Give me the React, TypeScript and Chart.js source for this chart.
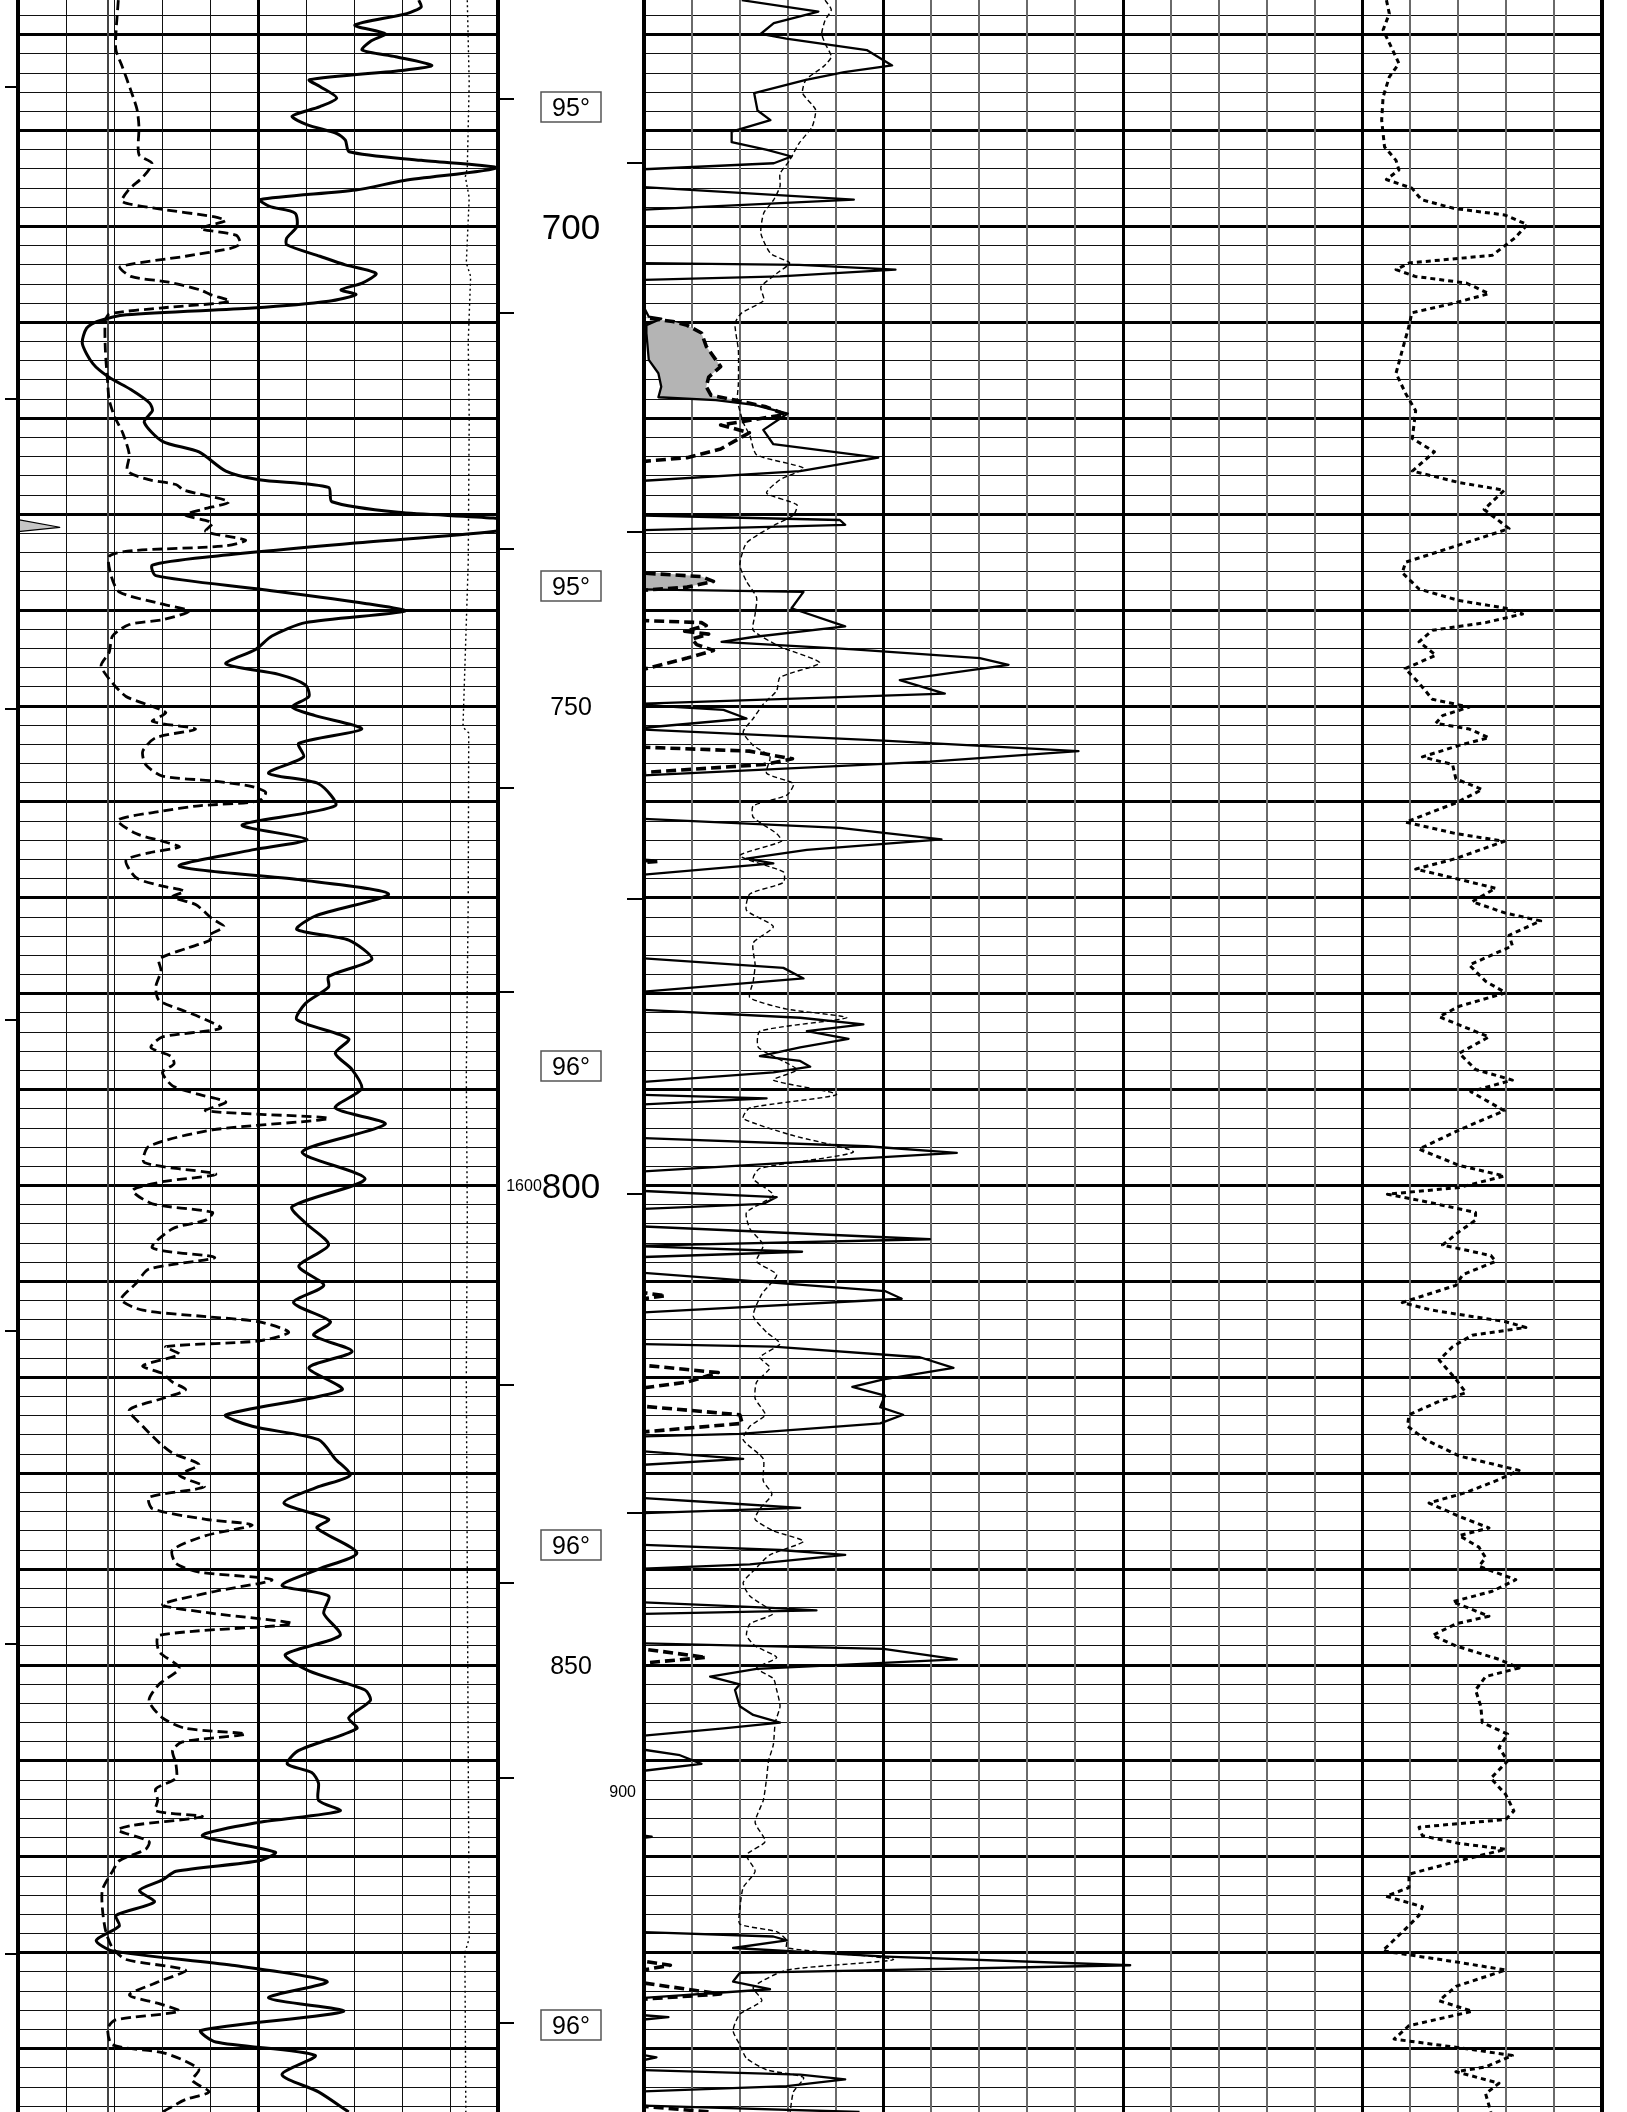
import React, { useEffect, useRef } from 'react';
import { Chart, registerables } from 'chart.js';

Chart.register(...registerables);

type P = [number, number]; // [depth (m), value (track divisions)]

const FONT = "'Liberation Sans', Arial, Helvetica, sans-serif";

// ---- depth axis ----
const DEPTH_TOP = 676.38;
const DEPTH_BOTTOM = 896.6;
const GRID_STEP_M = 2;
const GRID_MAJOR_M = 10;

// ---- track layout (divisions) ----
const T1_DIVISIONS = 10;
const T1_MAJOR = [5];
const T1_REFERENCE = 1.88;
const T23_DIVISIONS = 20;
const T23_MAJOR = [5, 10, 15];

// ---- depth track labels ----
const DEPTH_NUMBERS = [700, 750, 800, 850];
const TEMP_DEPTHS = [687.5, 737.5, 787.5, 837.5, 887.5];
const TEMP_LABELS = ['95°', '95°', '96°', '96°', '96°'];
const AUX_LEFT_TEXT = '1600';
const AUX_LEFT_DEPTH = 800;
const AUX_RIGHT_TEXT = '900';
const AUX_RIGHT_DEPTH = 863.2;

// ---- tick marks ----
const LEFT_EDGE_TICKS = [685.5, 718.0, 750.3, 782.7, 815.2, 847.8, 880.1];
const MID_LEFT_TICKS = [686.7, 709.0, 733.6, 758.5, 779.8, 820.8, 841.4, 861.8, 887.3];
const MID_RIGHT_TICKS = [693.4, 731.8, 770.1, 800.9, 834.1];

// ---- Track 1: solid curve ----
const GR: P[] = [
  [676.4, 8.35], [677.1, 8.4], [677.8, 8.1], [679.0, 7.02], [679.9, 7.65], [680.7, 7.34], [681.6, 7.17],
  [682.3, 7.87], [683.2, 8.62], [683.7, 8.05], [684.7, 6.07], [685.4, 6.29], [686.6, 6.64], [687.5, 6.29],
  [688.5, 5.71], [689.4, 6.03], [690.3, 6.64], [691.0, 6.82], [692.2, 6.9], [693.1, 8.4], [693.9, 9.97],
  [695.2, 8.05], [696.2, 7.04], [697.2, 5.04], [697.9, 5.24], [698.6, 5.77], [700.0, 5.81], [701.2, 5.6],
  [701.9, 5.6], [703.1, 6.29], [704.0, 6.82], [704.9, 7.46], [705.9, 7.17], [706.6, 6.73], [707.1, 7.04],
  [707.8, 6.47], [708.5, 4.89], [709.2, 2.26], [709.9, 1.65], [710.6, 1.43], [712.2, 1.34], [714.3, 1.56],
  [715.7, 1.89], [717.0, 2.35], [718.4, 2.74], [719.2, 2.8], [720.4, 2.63], [722.4, 3.01], [723.5, 3.77],
  [725.5, 4.33], [726.4, 5.02], [727.2, 6.47], [728.7, 6.54], [729.8, 7.92], [730.4, 9.9], [731.0, 10.5],
  [731.8, 9.9], [733.0, 7.02], [734.4, 4.05], [735.3, 2.8], [736.4, 2.87], [737.8, 5.02], [739.3, 7.23],
  [740.1, 8.06], [741.3, 5.99], [742.7, 5.29], [744.1, 4.95], [745.6, 4.33], [746.7, 5.43], [747.8, 5.99],
  [749.0, 6.06], [750.1, 5.71], [751.0, 6.19], [752.4, 7.16], [753.9, 5.85], [755.3, 5.95], [757.0, 5.22],
  [758.1, 6.26], [760.4, 6.61], [762.4, 4.67], [763.9, 6.02], [765.0, 4.88], [766.7, 3.36], [768.1, 5.85],
  [769.6, 7.72], [771.9, 6.19], [773.3, 5.81], [774.4, 6.89], [776.4, 7.37], [778.2, 6.47], [779.3, 6.47],
  [781.0, 5.99], [782.7, 5.81], [784.7, 6.89], [786.2, 6.61], [787.9, 6.96], [789.9, 7.16], [791.9, 6.61],
  [793.6, 7.65], [796.5, 5.92], [799.3, 7.23], [802.2, 5.71], [803.9, 5.99], [806.2, 6.47], [808.4, 5.85],
  [810.4, 6.37], [812.2, 5.74], [814.2, 6.51], [815.6, 6.16], [817.3, 6.96], [819.0, 6.06], [821.3, 6.75],
  [823.9, 4.33], [825.1, 4.88], [826.5, 6.26], [828.5, 6.61], [830.2, 6.92], [831.4, 6.26], [833.1, 5.54],
  [834.8, 6.47], [835.7, 6.23], [838.3, 7.06], [840.0, 6.26], [841.7, 5.5], [842.8, 6.47], [844.6, 6.37],
  [846.9, 6.71], [848.9, 5.57], [850.6, 6.06], [852.6, 7.23], [853.7, 7.34], [855.5, 6.89], [856.6, 7.06],
  [858.9, 5.85], [860.3, 5.61], [861.2, 6.12], [862.3, 6.26], [864.1, 6.26], [865.2, 6.71], [866.4, 5.02],
  [867.8, 3.84], [869.5, 5.36], [870.4, 5.02], [871.5, 3.29], [872.4, 3.01], [873.5, 2.53], [874.7, 2.84],
  [876.1, 2.04], [877.2, 2.11], [878.7, 1.63], [879.8, 1.97], [881.3, 4.46], [883.0, 6.44], [884.7, 5.22],
  [886.1, 6.78], [888.1, 3.81], [889.3, 4.12], [890.7, 6.19], [892.7, 5.5], [894.5, 6.26], [896.6, 6.89],
];

// ---- Track 1: dashed curve ----
const SP: P[] = [
  [676.4, 2.09], [679.9, 2.04], [681.6, 2.04], [683.3, 2.17], [685.8, 2.35], [687.8, 2.48], [689.6, 2.52],
  [692.5, 2.52], [693.4, 2.79], [694.8, 2.61], [696.2, 2.3], [697.4, 2.17], [698.1, 2.87], [699.0, 4.1],
  [699.4, 4.32], [700.2, 3.79], [700.9, 4.54], [701.8, 4.63], [702.3, 4.41], [703.1, 3.49], [704.2, 2.13],
  [705.2, 2.35], [705.8, 3.14], [706.6, 3.79], [707.1, 4.01], [707.8, 4.41], [708.5, 2.96], [709.1, 1.91],
  [709.8, 1.82], [712.9, 1.82], [716.4, 1.87], [718.1, 1.9], [719.8, 2.01], [721.5, 2.18], [723.8, 2.32],
  [725.5, 2.28], [726.4, 2.73], [726.9, 3.29], [727.5, 3.46], [728.7, 4.39], [729.5, 3.84], [730.1, 3.49],
  [730.9, 4.05], [731.8, 3.91], [732.7, 4.74], [733.3, 4.33], [733.8, 2.39], [734.4, 1.9], [736.4, 1.94],
  [738.1, 2.11], [739.3, 2.94], [740.1, 3.56], [741.0, 3.01], [741.5, 2.32], [742.7, 1.97], [744.4, 1.9],
  [745.8, 1.73], [747.6, 1.97], [749.0, 2.25], [749.8, 2.66], [750.7, 3.08], [751.6, 2.8], [752.4, 3.7],
  [753.3, 2.87], [754.7, 2.6], [756.1, 2.66], [757.3, 3.01], [757.8, 4.05], [758.4, 4.88], [759.0, 5.16],
  [759.9, 5.02], [760.4, 3.77], [761.0, 2.94], [761.9, 2.08], [763.3, 2.46], [764.1, 3.01], [764.7, 3.36],
  [765.3, 2.73], [766.1, 2.25], [767.9, 2.46], [768.7, 2.94], [769.3, 3.46], [769.9, 3.22], [770.7, 3.7],
  [772.2, 4.05], [773.0, 4.29], [773.9, 3.98], [774.4, 4.01], [775.3, 3.49], [776.4, 2.94], [777.6, 2.98],
  [779.3, 2.87], [780.7, 2.94], [781.6, 3.36], [782.4, 3.77], [783.6, 4.22], [784.5, 3.01], [785.6, 2.77],
  [786.5, 3.18], [787.3, 3.25], [788.2, 3.01], [789.6, 3.22], [790.5, 3.77], [791.3, 4.33], [792.2, 3.91],
  [793.0, 6.47], [794.2, 4.05], [795.9, 2.73], [797.6, 2.63], [798.8, 4.12], [799.6, 3.01], [800.5, 2.39],
  [801.9, 2.8], [802.8, 4.05], [803.6, 3.91], [804.5, 3.22], [806.5, 2.8], [807.5, 4.1], [808.7, 2.73],
  [810.2, 2.46], [811.9, 2.15], [813.0, 2.6], [813.6, 3.77], [814.2, 5.02], [815.3, 5.64], [816.2, 5.02],
  [816.8, 3.08], [817.6, 3.36], [818.8, 2.6], [819.6, 3.01], [820.5, 3.22], [821.3, 3.49], [822.2, 3.01],
  [823.4, 2.32], [825.1, 2.6], [826.8, 2.94], [827.9, 3.22], [829.1, 3.77], [830.2, 3.36], [831.4, 3.88],
  [832.5, 2.73], [833.7, 2.8], [834.8, 3.91], [835.4, 4.88], [836.5, 3.91], [838.0, 3.22], [839.4, 3.29],
  [840.3, 3.77], [841.1, 5.29], [842.3, 4.12], [843.7, 3.01], [844.6, 4.05], [845.7, 5.71], [846.9, 2.94],
  [848.6, 2.94], [850.3, 3.36], [852.0, 2.94], [853.7, 2.73], [855.5, 3.01], [856.6, 3.49], [857.2, 4.74],
  [858.0, 3.43], [858.9, 3.22], [860.3, 3.29], [861.8, 3.29], [862.9, 2.87], [864.1, 2.91], [865.2, 2.87],
  [865.8, 3.84], [866.7, 2.39], [867.2, 2.08], [868.4, 2.73], [869.2, 2.66], [870.4, 2.11], [871.5, 1.97],
  [873.4, 1.76], [875.5, 1.76], [877.8, 1.83], [879.5, 1.97], [880.7, 2.25], [881.8, 3.49], [883.0, 2.94],
  [884.4, 2.32], [885.3, 2.94], [886.1, 3.36], [887.0, 2.04], [887.9, 1.87], [889.6, 1.97], [890.4, 3.01],
  [891.3, 3.49], [892.2, 3.77], [893.3, 3.63], [894.5, 3.98], [895.3, 3.49], [896.6, 3.01],
];

// ---- Track 1: thin dotted curve ----
const CALI: P[] = [
  [676.4, 9.36], [685.0, 9.4], [693.9, 9.36], [694.8, 9.32], [697.0, 9.4], [703.8, 9.34], [705.2, 9.43],
  [712.0, 9.38], [720.0, 9.4], [735.0, 9.38], [752.2, 9.27], [752.8, 9.39], [770.0, 9.38], [788.5, 9.34],
  [803.0, 9.36], [820.0, 9.34], [850.0, 9.37], [878.5, 9.4], [880.0, 9.31], [896.6, 9.33],
];

// ---- Track 1: small shaded wedge ----
const T1_WEDGE: P[] = [[730.56, 0], [731.36, 0.87], [731.82, 0]];

// ---- Track 2: solid curve ----
const ILD: P[] = [
  [676.4, 2.04], [677.6, 3.64], [678.8, 2.71], [679.9, 2.44], [680.4, 2.97], [681.6, 4.65], [683.2, 5.18],
  [683.9, 4.18], [684.7, 3.38], [686.1, 2.3], [687.9, 2.37], [688.9, 2.64], [690.1, 1.83], [691.2, 1.83],
  [692.0, 2.57], [692.7, 3.08], [693.4, 2.71], [694.1, -0.3], [695.8, -0.3], [697.2, 4.38], [698.3, -0.3],
  [703.8, -0.3], [704.0, 3.24], [704.5, 5.25], [705.2, 2.84], [705.6, -0.3], [709.4, 0.1], [709.6, 0.36],
  [710.3, 0.05], [711.1, 0.05], [713.9, 0.1], [715.3, 0.3], [716.7, 0.36], [717.8, 0.3], [718.1, 1.5],
  [718.6, 2.3], [719.5, 3.0], [721.2, 2.49], [722.7, 2.7], [724.1, 4.89], [725.5, 3.26], [726.6, -0.3],
  [730.1, -0.3], [730.6, 4.09], [731.1, 4.2], [731.7, -0.3], [737.8, -0.3], [738.1, 3.33], [739.8, 3.08],
  [741.7, 4.2], [742.8, 2.28], [743.3, 1.62], [744.1, 4.37], [745.0, 7.01], [745.7, 7.61], [747.3, 5.34],
  [748.7, 6.28], [749.8, -0.3], [750.4, 1.66], [751.3, 2.14], [752.4, -0.3], [753.6, 5.0], [754.7, 9.07],
  [755.8, 5.97], [757.3, -0.3], [761.7, -0.3], [762.7, 4.09], [763.9, 6.21], [765.0, 3.4], [765.9, 2.14],
  [766.4, 2.7], [767.7, -0.3], [776.2, -0.3], [777.3, 2.91], [778.4, 3.33], [779.9, -0.3], [781.6, -0.3],
  [782.5, 3.26], [783.2, 4.58], [783.9, 3.4], [784.7, 4.27], [785.6, 3.26], [786.5, 2.42], [787.0, 3.26],
  [787.6, 3.47], [788.2, 2.7], [789.3, -0.3], [790.5, -0.3], [790.9, 2.56], [791.6, -0.3], [795.0, -0.3],
  [795.9, 4.65], [796.6, 6.53], [797.3, 4.09], [798.6, -0.3], [800.5, -0.3], [801.2, 2.77], [801.9, 2.5],
  [802.5, -0.3], [804.2, -0.3], [805.6, 5.97], [806.3, -0.3], [806.9, 3.3], [807.5, -0.3], [809.0, -0.3],
  [811.0, 5.03], [811.8, 5.38], [813.3, -0.3], [816.5, -0.3], [816.8, 2.7], [817.9, 5.76], [819.0, 6.46],
  [820.2, 5.0], [821.0, 4.35], [821.9, 5.03], [823.1, 4.93], [823.9, 5.41], [824.8, 4.93], [825.9, 2.0],
  [826.2, -0.3], [827.6, -0.3], [828.5, 2.07], [829.2, -0.3], [832.5, -0.3], [833.1, 1.66], [833.6, 3.26],
  [834.2, -0.3], [837.4, -0.3], [838.0, 2.84], [838.5, 4.2], [839.5, 2.21], [840.0, -0.3], [843.4, -0.3],
  [844.0, 2.56], [844.3, 3.6], [844.7, -0.3], [847.7, -0.3], [848.3, 5.0], [849.4, 6.53], [850.4, 2.35],
  [851.2, 1.38], [852.0, 2.0], [852.6, 1.9], [854.3, 2.0], [855.2, 2.28], [856.0, 2.84], [856.6, 1.66],
  [857.5, -0.3], [858.6, -0.3], [859.4, 0.75], [860.3, 1.2], [861.2, -0.3], [867.6, -0.3], [867.9, 0.16],
  [868.2, -0.3], [877.8, -0.3], [878.3, 2.7], [878.7, 2.98], [879.5, 1.86], [880.4, 5.07], [881.3, 10.15],
  [882.1, 2.0], [883.0, 1.86], [883.8, 2.63], [884.8, -0.3], [886.4, -0.3], [886.7, 0.51], [887.1, -0.3],
  [890.4, -0.3], [890.9, 0.26], [891.5, -0.3], [892.2, -0.3], [892.7, 3.26], [893.2, 4.2], [893.9, 2.98],
  [894.5, -0.3], [895.9, -0.3], [896.6, 4.5],
];

// ---- Track 2: heavy dashed curve ----
const ILM: P[] = [
  [709.4, -0.5], [709.5, 0], [709.9, 0.6], [710.3, 0.9], [711.1, 1.2], [712.5, 1.3], [713.9, 1.5],
  [714.6, 1.6], [715.7, 1.35], [716.7, 1.3], [717.6, 1.4], [718.1, 1.9], [718.8, 2.55], [719.6, 2.95],
  [720.7, 1.6], [721.5, 2.2], [723.2, 1.6], [724.1, 0.9], [724.7, -0.5], [736.0, -0.5], [736.5, 1.2],
  [737.0, 1.45], [737.6, 0.9], [738.1, -0.5], [741.0, -0.5], [741.3, 1.2], [741.6, 1.3], [742.2, 0.85],
  [742.5, 1.35], [743.0, 1.0], [743.6, 1.1], [744.2, 1.45], [745.0, 0.9], [746.8, -0.5], [754.2, -0.5],
  [754.7, 2.2], [755.5, 3.1], [756.1, 2.5], [757.1, -0.5], [765.9, -0.5], [766.2, 0.3], [766.5, -0.5],
  [810.8, -0.5], [811.5, 0.45], [812.1, -0.5], [818.5, -0.5], [819.5, 1.55], [820.5, 0.9], [821.4, -0.5],
  [822.8, -0.5], [823.9, 2.0], [824.8, 2.05], [825.9, -0.5], [848.0, -0.5], [849.2, 1.3], [850.0, -0.5],
  [880.5, -0.5], [881.3, 0.55], [882.2, -0.5], [882.8, -0.5], [884.3, 1.6], [885.0, -0.5], [895.8, -0.5],
  [896.6, 1.4],
];

// ---- Track 2: thin dashed curve ----
const SFL: P[] = [
  [676.4, 3.78], [677.4, 3.91], [678.5, 3.78], [679.9, 3.71], [680.9, 3.78], [682.3, 3.91], [683.3, 3.75],
  [684.7, 3.38], [686.1, 3.31], [687.8, 3.58], [689.6, 3.51], [691.3, 3.24], [693.1, 3.04], [694.5, 2.84],
  [695.8, 2.84], [697.2, 2.71], [698.6, 2.5], [700.7, 2.44], [702.8, 2.64], [703.8, 3.04], [704.9, 2.77],
  [706.3, 2.44], [707.7, 2.5], [709.0, 2.04], [710.1, 1.9], [712.9, 1.97], [716.4, 1.97], [718.1, 1.95],
  [720.4, 2.07], [721.8, 2.21], [723.8, 2.35], [725.2, 3.33], [726.4, 2.84], [727.8, 2.56], [729.0, 3.19],
  [730.1, 3.12], [731.2, 2.7], [733.0, 2.14], [735.3, 2.0], [737.0, 2.14], [738.7, 2.35], [740.4, 2.32],
  [742.1, 2.28], [743.8, 2.84], [745.5, 3.67], [747.0, 2.84], [748.4, 2.77], [749.8, 2.49], [751.3, 2.28],
  [752.7, 2.07], [754.1, 2.28], [755.3, 2.63], [757.0, 2.56], [758.1, 3.12], [759.3, 2.98], [760.4, 2.28],
  [761.6, 2.28], [763.3, 2.77], [764.1, 2.87], [765.6, 2.0], [767.3, 2.91], [768.4, 2.91], [769.6, 2.21],
  [771.3, 2.14], [773.0, 2.7], [774.7, 2.28], [777.0, 2.32], [778.7, 2.28], [780.4, 2.21], [781.6, 2.98],
  [782.5, 4.23], [783.9, 2.42], [785.6, 2.39], [787.9, 3.19], [789.0, 2.7], [790.5, 4.02], [791.9, 2.21],
  [793.0, 2.07], [794.7, 3.05], [796.5, 4.37], [798.2, 2.42], [799.3, 2.28], [801.0, 2.7], [802.8, 2.14],
  [804.5, 2.21], [806.2, 2.49], [807.9, 2.35], [809.3, 2.77], [811.3, 2.46], [813.6, 2.28], [815.3, 2.56],
  [816.5, 2.84], [817.9, 2.42], [819.0, 2.63], [820.5, 2.35], [822.2, 2.32], [823.9, 2.53], [825.1, 2.21],
  [826.5, 2.07], [828.5, 2.49], [830.8, 2.49], [832.2, 2.67], [833.7, 2.42], [834.8, 2.32], [836.0, 2.7],
  [837.1, 3.33], [838.5, 2.63], [840.0, 2.32], [841.4, 2.07], [842.8, 2.21], [844.6, 2.7], [845.7, 2.21],
  [846.9, 2.14], [848.0, 2.32], [849.2, 2.77], [850.3, 2.35], [851.4, 2.7], [852.6, 2.77], [854.3, 2.84],
  [856.0, 2.74], [858.3, 2.7], [860.0, 2.6], [861.8, 2.56], [864.1, 2.49], [866.4, 2.32], [868.4, 2.53],
  [869.8, 2.14], [871.5, 2.32], [873.2, 2.07], [875.5, 2.0], [877.0, 2.0], [877.8, 2.77], [878.7, 2.98],
  [879.5, 2.98], [880.7, 5.21], [881.8, 2.98], [883.6, 2.28], [885.0, 2.46], [886.4, 2.0], [888.1, 1.86],
  [889.6, 2.0], [891.0, 2.14], [892.2, 2.56], [893.0, 3.33], [894.5, 3.12], [896.6, 3.05],
];

// ---- Track 3: heavy dotted curve ----
const DT: P[] = [
  [676.4, 15.5], [677.8, 15.56], [679.5, 15.43], [681.6, 15.63], [683.0, 15.76], [684.4, 15.56], [686.5, 15.43],
  [688.9, 15.4], [691.7, 15.46], [693.1, 15.7], [694.1, 15.76], [695.1, 15.5], [696.0, 16.03], [697.2, 16.23],
  [698.1, 16.9], [698.8, 17.97], [699.8, 18.44], [701.2, 18.18], [703.0, 17.71], [703.8, 15.97], [704.5, 15.7],
  [705.2, 16.1], [705.9, 17.17], [707.0, 17.64], [708.0, 16.9], [709.0, 16.03], [710.4, 15.97], [712.9, 15.83],
  [715.3, 15.7], [717.4, 15.9], [718.6, 16.04], [719.2, 16.11], [722.1, 16.04], [723.5, 16.5], [725.5, 16.04],
  [726.7, 17.02], [727.5, 17.96], [729.5, 17.54], [731.5, 18.06], [733.2, 17.02], [735.0, 15.9], [736.1, 15.83],
  [737.8, 16.18], [739.0, 17.02], [739.8, 17.99], [740.4, 18.34], [741.3, 17.57], [742.1, 16.46], [743.3, 16.18],
  [744.7, 16.53], [746.1, 15.89], [747.6, 16.18], [749.3, 16.46], [750.1, 17.23], [751.0, 16.67], [751.8, 16.53],
  [752.4, 17.23], [753.3, 17.64], [754.1, 17.02], [755.3, 16.25], [756.1, 16.88], [757.6, 16.95], [758.7, 17.5],
  [760.1, 16.95], [762.1, 15.9], [763.3, 16.95], [764.1, 17.96], [765.9, 16.95], [767.0, 16.11], [767.9, 16.88],
  [769.0, 17.78], [770.4, 17.29], [771.6, 17.99], [772.4, 18.72], [773.9, 18.06], [775.0, 18.13], [777.0, 17.23],
  [778.7, 17.57], [779.9, 17.99], [781.3, 17.02], [782.4, 16.6], [784.5, 17.64], [786.2, 17.02], [787.9, 17.36],
  [789.0, 18.13], [790.2, 17.26], [792.2, 17.96], [794.2, 17.02], [796.2, 16.18], [797.9, 17.02], [799.0, 17.96],
  [800.2, 17.02], [800.9, 15.52], [801.6, 16.25], [802.8, 17.36], [803.6, 17.36], [804.8, 17.02], [806.2, 16.67],
  [807.3, 17.68], [807.9, 17.78], [809.3, 17.09], [810.4, 16.95], [812.2, 15.83], [813.0, 16.46], [814.2, 17.99],
  [814.8, 18.41], [815.6, 17.29], [816.8, 16.88], [818.2, 16.6], [820.2, 16.95], [821.6, 17.16], [822.5, 16.6],
  [823.9, 15.97], [825.1, 15.94], [826.5, 16.32], [828.2, 17.02], [829.7, 18.27], [830.8, 17.78], [832.0, 17.16],
  [833.1, 16.39], [834.5, 17.02], [835.7, 17.64], [836.5, 17.02], [837.7, 17.43], [838.8, 17.57], [839.7, 17.43],
  [841.1, 18.2], [842.3, 17.71], [843.4, 16.88], [844.9, 17.64], [845.7, 16.95], [846.9, 16.46], [848.0, 16.95],
  [849.4, 17.85], [850.3, 18.27], [851.2, 17.57], [852.6, 17.36], [854.3, 17.47], [856.0, 17.5], [857.2, 18.03],
  [858.6, 17.85], [860.0, 18.03], [861.8, 17.68], [863.5, 17.99], [865.2, 18.16], [866.1, 17.99], [866.9, 16.18],
  [867.8, 16.25], [868.6, 17.02], [869.2, 17.99], [870.4, 17.02], [871.8, 15.97], [873.2, 15.97], [874.1, 15.49],
  [875.2, 16.25], [876.1, 16.18], [877.5, 15.9], [879.8, 15.42], [881.0, 17.02], [881.8, 17.99], [883.5, 16.95],
  [885.0, 16.6], [886.1, 17.29], [887.6, 15.97], [889.0, 15.66], [889.9, 17.02], [890.7, 18.13], [891.9, 17.57],
  [892.4, 16.95], [893.6, 17.85], [894.7, 17.57], [896.6, 17.68],
];

// ---------- helpers ----------
const toPts = (arr: P[]) => arr.map(([d, v]) => ({ x: v, y: d }));
const between = (arr: P[], lo: number, hi: number) => arr.filter(([d]) => d >= lo && d <= hi);

const FILL_A: P[] = [...between(ILM, 709.45, 719.65), ...between(ILD, 709.35, 719.55).reverse()];
const FILL_B: P[] = between(ILM, 735.9, 738.2).map(([d, v]) => [d, Math.max(v, 0)] as P);

const SHADE = '#b4b4b4';

function line(ctx: CanvasRenderingContext2D, x1: number, y1: number, x2: number, y2: number) {
  ctx.beginPath();
  ctx.moveTo(x1, y1);
  ctx.lineTo(x2, y2);
  ctx.stroke();
}

// snap a coordinate so that a line of the given width is drawn crisply
const snap = (v: number, w: number) => (Math.round(w) % 2 === 1 ? Math.round(v - 0.5) + 0.5 : Math.round(v));

function trackGridPlugin(divisions: number, majors: number[], thinColor: string, thinWidth: number, extra: number[], edgeTicks: number[]) {
  return {
    id: 'trackGrid',
    beforeDatasetsDraw(chart: any) {
      const { ctx, chartArea: a, scales } = chart;
      const xs = scales.x;
      const ys = scales.y;
      ctx.save();
      const first = Math.ceil(DEPTH_TOP / GRID_STEP_M);
      const last = Math.floor(DEPTH_BOTTOM / GRID_STEP_M);
      for (let k = first; k <= last; k++) {
        const d = k * GRID_STEP_M;
        const major = d % GRID_MAJOR_M === 0;
        const w = major ? 3 : 1;
        const py = snap(ys.getPixelForValue(d), w);
        ctx.strokeStyle = major ? '#000' : '#111';
        ctx.lineWidth = w;
        line(ctx, a.left, py, a.right, py);
      }
      for (let i = 1; i < divisions; i++) {
        const major = majors.includes(i);
        const w = major ? 3 : thinWidth;
        const px = snap(xs.getPixelForValue(i), w);
        ctx.strokeStyle = major ? '#000' : thinColor;
        ctx.lineWidth = w;
        line(ctx, px, a.top, px, a.bottom);
      }
      extra.forEach((v) => {
        const px = snap(xs.getPixelForValue(v), 2);
        ctx.strokeStyle = '#444';
        ctx.lineWidth = 2;
        line(ctx, px, a.top, px, a.bottom);
      });
      ctx.restore();
    },
    afterDatasetsDraw(chart: any) {
      const { ctx, chartArea: a, scales } = chart;
      const ys = scales.y;
      ctx.save();
      ctx.strokeStyle = '#000';
      ctx.lineWidth = 4;
      line(ctx, a.left, a.top, a.left, a.bottom);
      line(ctx, a.right, a.top, a.right, a.bottom);
      ctx.lineWidth = 2;
      edgeTicks.forEach((d) => {
        const py = snap(ys.getPixelForValue(d), 2);
        line(ctx, a.left - 13, py, a.left, py);
      });
      ctx.restore();
    },
  };
}

const depthTrackPlugin = {
  id: 'depthTrack',
  afterDraw(chart: any) {
    const { ctx, chartArea: a, scales } = chart;
    const ys = scales.y;
    const cx = (a.left + a.right) / 2;
    ctx.save();
    ctx.strokeStyle = '#000';
    ctx.lineWidth = 2;
    MID_LEFT_TICKS.forEach((d) => {
      const py = snap(ys.getPixelForValue(d), 2);
      line(ctx, a.left, py, a.left + 14, py);
    });
    MID_RIGHT_TICKS.forEach((d) => {
      const py = snap(ys.getPixelForValue(d), 2);
      line(ctx, a.right - 15, py, a.right, py);
    });
    ctx.fillStyle = '#000';
    ctx.textBaseline = 'alphabetic';
    ctx.textAlign = 'center';
    DEPTH_NUMBERS.forEach((d) => {
      const size = d % 100 === 0 ? 35 : 25;
      ctx.font = `${size}px ${FONT}`;
      ctx.fillText(String(d), cx, ys.getPixelForValue(d) + size * 0.36);
    });
    TEMP_DEPTHS.forEach((d, i) => {
      const py = Math.round(ys.getPixelForValue(d));
      ctx.strokeStyle = '#555';
      ctx.lineWidth = 1.5;
      ctx.strokeRect(cx - 30, py - 15, 60, 30);
      ctx.font = `25px ${FONT}`;
      ctx.fillText(TEMP_LABELS[i], cx, py + 9);
    });
    ctx.font = `35px ${FONT}`;
    const w800 = ctx.measureText(String(AUX_LEFT_DEPTH)).width;
    ctx.font = `16px ${FONT}`;
    ctx.textAlign = 'right';
    ctx.fillText(AUX_LEFT_TEXT, cx - w800 / 2, ys.getPixelForValue(AUX_LEFT_DEPTH) + 5.8);
    ctx.fillText(AUX_RIGHT_TEXT, a.right - 6, ys.getPixelForValue(AUX_RIGHT_DEPTH) + 5.8);
    ctx.restore();
  },
};

const yScale = () => ({ type: 'linear', min: DEPTH_TOP, max: DEPTH_BOTTOM, reverse: true, display: false });

const baseOptions = (xMax: number, padding: any) => ({
  animation: false,
  responsive: false,
  devicePixelRatio: 1,
  indexAxis: 'y',
  events: [],
  layout: { padding },
  scales: {
    x: { type: 'linear', min: 0, max: xMax, display: false },
    y: yScale(),
  },
  plugins: { legend: { display: false }, tooltip: { enabled: false } },
  elements: { point: { radius: 0, hitRadius: 0 }, line: { borderJoinStyle: 'round', borderCapStyle: 'butt' } },
});

const curve = (data: P[], opts: any) => ({
  data: toPts(data),
  borderColor: '#000',
  backgroundColor: 'transparent',
  pointRadius: 0,
  fill: false,
  tension: 0,
  ...opts,
});

function track1Config(): any {
  return {
    type: 'line',
    data: {
      datasets: [
        curve(GR, { label: 'Track 1 solid', borderWidth: 3, tension: 0.25 }),
        curve(SP, { label: 'Track 1 dashed', borderWidth: 2.8, borderDash: [10, 5], tension: 0.25 }),
        curve(CALI, { label: 'Track 1 dotted', borderWidth: 1.4, borderDash: [2, 3] }),
        curve(T1_WEDGE, { label: 'Track 1 shade', borderWidth: 1.2, fill: 'shape', backgroundColor: '#c6c6c6' }),
      ],
    },
    options: baseOptions(T1_DIVISIONS, { left: 18, right: 2, top: 0, bottom: 0 }),
    plugins: [trackGridPlugin(T1_DIVISIONS, T1_MAJOR, '#111', 1, [T1_REFERENCE], LEFT_EDGE_TICKS)],
  };
}

function depthConfig(): any {
  return {
    type: 'line',
    data: { datasets: [] },
    options: baseOptions(1, { left: 0, right: 0, top: 0, bottom: 0 }),
    plugins: [depthTrackPlugin],
  };
}

function track23Config(): any {
  return {
    type: 'line',
    data: {
      datasets: [
        curve(ILD, { label: 'Track 2 solid', borderWidth: 2.3 }),
        curve(ILM, { label: 'Track 2 heavy dashed', borderWidth: 3.6, borderDash: [10, 5] }),
        curve(SFL, { label: 'Track 2 thin dashed', borderWidth: 1.4, borderDash: [5, 3], tension: 0.2 }),
        curve(DT, { label: 'Track 3 dotted', borderWidth: 3, borderDash: [5, 4] }),
        curve(FILL_A, { label: 'shade A', borderWidth: 0, fill: 'shape', backgroundColor: SHADE }),
        curve(FILL_B, { label: 'shade B', borderWidth: 0, fill: 'shape', backgroundColor: SHADE }),
      ],
    },
    options: baseOptions(T23_DIVISIONS, { left: 2, right: 25, top: 0, bottom: 0 }),
    plugins: [trackGridPlugin(T23_DIVISIONS, T23_MAJOR, '#6a6a6a', 2, [], [])],
  };
}

export default function App() {
  const r1 = useRef<HTMLCanvasElement>(null);
  const r2 = useRef<HTMLCanvasElement>(null);
  const r3 = useRef<HTMLCanvasElement>(null);

  useEffect(() => {
    const c1 = new Chart(r1.current as HTMLCanvasElement, track1Config());
    const c2 = new Chart(r2.current as HTMLCanvasElement, depthConfig());
    const c3 = new Chart(r3.current as HTMLCanvasElement, track23Config());
    return () => {
      c1.destroy();
      c2.destroy();
      c3.destroy();
    };
  }, []);

  return (
    <div style={{ position: 'absolute', left: 0, top: 0, width: 1627, height: 2112, background: '#fff', overflow: 'hidden' }}>
      <canvas ref={r1} width={500} height={2112} style={{ position: 'absolute', left: 0, top: 0, width: 500, height: 2112 }} />
      <canvas ref={r2} width={142} height={2112} style={{ position: 'absolute', left: 500, top: 0, width: 142, height: 2112 }} />
      <canvas ref={r3} width={985} height={2112} style={{ position: 'absolute', left: 642, top: 0, width: 985, height: 2112 }} />
    </div>
  );
}
